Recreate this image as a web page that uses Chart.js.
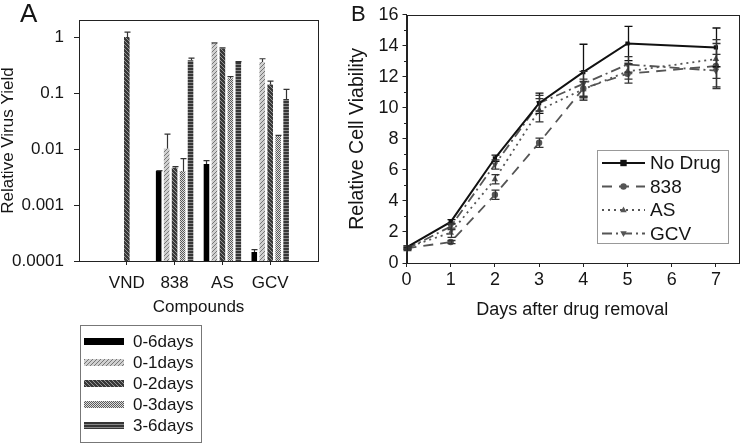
<!DOCTYPE html>
<html>
<head>
<meta charset="utf-8">
<script src="https://cdn.jsdelivr.net/npm/chart.js@4.4.1/dist/chart.umd.min.js"></script>
<style>
  body { margin: 0; background: #fff; width: 742px; height: 444px; overflow: hidden; position: relative; }
  #wrapA { position: absolute; left: 0; top: 0; width: 330px; height: 444px; }
  #wrapB { position: absolute; left: 340px; top: 0; width: 402px; height: 444px; }
</style>
</head>
<body>
<div id="wrapA"><canvas id="chartA"></canvas></div>
<div id="wrapB"><canvas id="chartB"></canvas></div>
<script>
// ---- panel A: relative virus yield (log scale) ----
const compounds = ['VND', '838', 'AS', 'GCV'];
const periods = ['0-6days', '0-1days', '0-2days', '0-3days', '3-6days'];
const yield06 = [null, 0.0041, 0.0054, 0.000145];
const yield01 = [null, 0.0102, 0.786, 0.36];
const yield02 = [1.0, 0.00465, 0.627, 0.142];
const yield03 = [null, 0.00403, 0.184, 0.0171];
const yield36 = [null, 0.386, 0.36, 0.078];
const err06 = [null, 0, 0.0008, 0.000014];
const err01 = [null, 0.0083, 0, 0.05];
const err02 = [0.22, 0.0002, 0.015, 0.021];
const err03 = [null, 0.0027, 0.013, 0.0005];
const err36 = [null, 0.034, 0.005, 0.038];
const yTicksA = [0.0001, 0.001, 0.01, 0.1, 1];

// ---- panel B: relative cell viability ----
const days = [0, 1, 2, 3, 4, 5, 7];
const drugs = ['No Drug', '838', 'AS', 'GCV'];
const noDrug = [1.0, 2.65, 6.75, 10.3, 12.3, 14.15, 13.9];
const drug838 = [0.95, 1.35, 4.4, 7.75, 11.25, 12.2, 12.7];
const drugAS = [1.0, 1.95, 5.4, 9.85, 11.2, 12.35, 13.15];
const drugGCV = [0.9, 2.35, 6.35, 10.3, 11.55, 12.8, 12.4];
const sdNoDrug = [0.1, 0.15, 0.2, 0.65, 1.8, 1.1, 1.25];
const sd838 = [0.05, 0.1, 0.3, 0.3, 0.6, 0.6, 1.45];
const sdAS = [0.1, 0.3, 0.3, 0.75, 0.5, 0.5, 1.25];
const sdGCV = [0.1, 0.2, 0.3, 0.5, 0.8, 0.5, 1.05];

const FONT = '"Liberation Sans", Arial, sans-serif';
const TXT = '#151515';
Chart.defaults.font.family = FONT;
Chart.defaults.color = TXT;

// fill patterns for the bars
function pattern(w, h, bg, fg, pix) {
  const c = document.createElement('canvas');
  c.width = w; c.height = h;
  const x = c.getContext('2d');
  x.fillStyle = bg; x.fillRect(0, 0, w, h);
  x.fillStyle = fg;
  for (let i = 0; i < w; i++) for (let j = 0; j < h; j++) if (pix(i, j)) x.fillRect(i, j, 1, 1);
  return x.createPattern(c, 'repeat');
}
const fillsA = [
  '#000',
  pattern(4, 4, '#d0d0d0', '#767676', (i, j) => i + j === 3),
  pattern(4, 4, '#383838', '#969696', (i, j) => i === j),
  pattern(2, 2, '#dcdcdc', '#5a5a5a', (i, j) => (i + j) % 2 === 0),
  pattern(1, 3, '#363636', '#888888', (i, j) => j === 1)
];

// error bars: panel A upward only, panel B both ways
const errorBars = {
  id: 'errorBars',
  afterDatasetsDraw(chart, args, opts) {
    const ctx = chart.ctx, yScale = chart.scales.y;
    ctx.save();
    chart.data.datasets.forEach((ds, di) => {
      const meta = chart.getDatasetMeta(di);
      ds.errors.forEach((e, i) => {
        const el = meta.data[i];
        const v = opts.xy ? ds.data[i].y : ds.data[i];
        if (e == null || v == null || !el) return;
        const x = Math.round(el.x) + 0.5;
        const top = yScale.getPixelForValue(v + e);
        const bot = opts.both ? yScale.getPixelForValue(v - e) : el.y;
        ctx.strokeStyle = opts.colors ? opts.colors[di] : '#333';
        ctx.lineWidth = opts.width;
        ctx.beginPath();
        ctx.moveTo(x, top); ctx.lineTo(x, bot);
        ctx.moveTo(x - opts.cap, top); ctx.lineTo(x + opts.cap, top);
        if (opts.both) { ctx.moveTo(x - opts.cap, bot); ctx.lineTo(x + opts.cap, bot); }
        ctx.stroke();
      });
    });
    ctx.restore();
  }
};

// frame around the plot area and the panel letter
const frame = {
  id: 'frame',
  afterDraw(chart, args, opts) {
    const {left, top, right, bottom} = chart.chartArea;
    const ctx = chart.ctx;
    ctx.save();
    ctx.strokeStyle = '#222';
    ctx.lineWidth = 1;
    ctx.strokeRect(Math.round(left) + 0.5, Math.round(top) + 0.5, Math.round(right - left), Math.round(bottom - top));
    ctx.fillStyle = TXT;
    ctx.font = opts.size + 'px ' + FONT;
    ctx.textBaseline = 'alphabetic';
    ctx.fillText(opts.letter, opts.x, opts.y);
    if (opts.minor) {
      const ys = chart.scales.y;
      ctx.beginPath();
      opts.minor.forEach(v => {
        const y = Math.round(ys.getPixelForValue(v)) + 0.5;
        ctx.moveTo(left, y); ctx.lineTo(left - 2.5, y);
      });
      ctx.stroke();
    }
    ctx.restore();
  }
};

const legendA = {
  id: 'legendA',
  afterDraw(chart) {
    const ctx = chart.ctx;
    ctx.save();
    ctx.strokeStyle = '#777';
    ctx.lineWidth = 1;
    ctx.strokeRect(80.5, 325.5, 121, 117);
    ctx.font = '17px ' + FONT;
    ctx.textBaseline = 'middle';
    chart.data.datasets.forEach((ds, i) => {
      const y = 341.5 + i * 21;
      ctx.fillStyle = ds.backgroundColor;
      ctx.fillRect(84, y - 3.5, 40, 7);
      ctx.fillStyle = TXT;
      ctx.fillText(ds.label, 133, y + 1);
    });
    ctx.restore();
  }
};

function marker(ctx, style, rot, r, x, y) {
  ctx.beginPath();
  if (style === 'rect') {
    ctx.rect(x - r, y - r, 2 * r, 2 * r);
  } else if (style === 'circle') {
    ctx.arc(x, y, r, 0, Math.PI * 2);
  } else {
    const s = rot ? -1 : 1;
    ctx.moveTo(x, y - s * r * 1.1);
    ctx.lineTo(x + r, y + s * r * 0.7);
    ctx.lineTo(x - r, y + s * r * 0.7);
    ctx.closePath();
  }
  ctx.fill();
}

const legendB = {
  id: 'legendB',
  afterDraw(chart) {
    const ctx = chart.ctx;
    ctx.save();
    ctx.strokeStyle = '#999';
    ctx.lineWidth = 1;
    ctx.strokeRect(257.5, 150.5, 131, 93);
    ctx.font = '19px ' + FONT;
    ctx.textBaseline = 'middle';
    chart.data.datasets.forEach((ds, i) => {
      const y = 163 + i * 23.5;
      ctx.strokeStyle = ds.borderColor;
      ctx.lineWidth = ds.borderWidth;
      ctx.setLineDash(ds.borderDash);
      ctx.beginPath(); ctx.moveTo(262, y); ctx.lineTo(305, y); ctx.stroke();
      ctx.setLineDash([]);
      ctx.fillStyle = ds.borderColor;
      marker(ctx, ds.pointStyle, ds.pointRotation, 3.2, 283.5, y);
      ctx.fillStyle = TXT;
      ctx.fillText(ds.label, 310, y + 1);
    });
    ctx.restore();
  }
};

// ---- chart A ----
const labelsA = ['', ...compounds, ''];
const pad = a => [null, ...a, null];
const seriesA = [yield06, yield01, yield02, yield03, yield36];
const errorsA = [err06, err01, err02, err03, err36];

new Chart(document.getElementById('chartA'), {
  type: 'bar',
  data: {
    labels: labelsA,
    datasets: periods.map((p, i) => ({
      label: p,
      data: pad(seriesA[i]),
      errors: pad(errorsA[i]),
      backgroundColor: fillsA[i],
      borderWidth: 0,
      categoryPercentage: 0.833,
      barPercentage: 0.7
    }))
  },
  options: {
    responsive: true,
    maintainAspectRatio: false,
    animation: false,
    layout: { padding: { left: 0, top: 13, right: 12, bottom: 126 } },
    plugins: {
      legend: { display: false },
      tooltip: { enabled: false },
      errorBars: { width: 1.2, cap: 3, both: false },
      frame: { letter: 'A', size: 26, x: 20, y: 22 }
    },
    scales: {
      x: {
        offset: false,
        grid: {
          offset: false,
          drawOnChartArea: false,
          tickLength: 4,
          tickColor: c => (c.tick && c.tick.label === '') ? 'rgba(0,0,0,0)' : '#222'
        },
        border: { color: '#222' },
        ticks: { padding: 8, font: { size: 17 }, autoSkip: false, maxRotation: 0 },
        title: { display: true, text: 'Compounds', font: { size: 17 }, padding: 0 },
        afterFit: s => { s.height = 57; }
      },
      y: {
        type: 'logarithmic',
        min: 0.0001,
        max: 2,
        afterBuildTicks: s => { s.ticks = yTicksA.map(v => ({ value: v })); },
        grid: { drawOnChartArea: false, tickLength: 5, tickColor: '#222' },
        border: { color: '#222' },
        ticks: { padding: 10, font: { size: 17 }, autoSkip: false, callback: v => String(v) },
        title: { display: true, text: 'Relative Virus Yield', font: { size: 17, lineHeight: 1 }, padding: { top: 0, bottom: 0 } },
        afterFit: s => { s.width = 79; }
      }
    }
  },
  plugins: [errorBars, frame, legendA]
});

// ---- chart B ----
const seriesB = [noDrug, drug838, drugAS, drugGCV];
const sdB = [sdNoDrug, sd838, sdAS, sdGCV];
const lineStyles = [
  { color: '#111', dash: [], point: 'rect', rot: 0, r: 3, w: 2 },
  { color: '#555', dash: [10, 7], point: 'circle', rot: 0, r: 3.2, w: 1.8 },
  { color: '#555', dash: [2, 4], point: 'triangle', rot: 0, r: 3.8, w: 1.8 },
  { color: '#555', dash: [10, 4, 2, 4], point: 'triangle', rot: 180, r: 3.8, w: 1.8 }
];

new Chart(document.getElementById('chartB'), {
  type: 'line',
  data: {
    datasets: drugs.map((d, i) => ({
      label: d,
      data: days.map((x, j) => ({ x: x, y: seriesB[i][j] })),
      errors: sdB[i],
      borderColor: lineStyles[i].color,
      backgroundColor: lineStyles[i].color,
      borderDash: lineStyles[i].dash,
      borderWidth: lineStyles[i].w,
      pointStyle: lineStyles[i].point,
      pointRotation: lineStyles[i].rot,
      pointRadius: lineStyles[i].r,
      pointBorderWidth: 0,
      tension: 0,
      fill: false
    }))
  },
  options: {
    responsive: true,
    maintainAspectRatio: false,
    animation: false,
    layout: { padding: { left: 0, top: 13, right: 2, bottom: 123 } },
    plugins: {
      legend: { display: false },
      tooltip: { enabled: false },
      errorBars: { width: 1.3, cap: 4, both: true, xy: true, colors: ['#111', '#333', '#333', '#333'] },
      frame: { letter: 'B', size: 22, x: 11, y: 21, minor: [1, 3, 5, 7, 9, 11, 13, 15] }
    },
    scales: {
      x: {
        type: 'linear',
        min: 0,
        max: 7.5,
        grid: { drawOnChartArea: false, tickLength: 4, tickColor: '#222' },
        border: { color: '#222' },
        ticks: { stepSize: 1, includeBounds: false, padding: 2, font: { size: 18 }, maxRotation: 0 },
        title: { display: true, text: 'Days after drug removal', font: { size: 18 }, padding: 0 },
        afterFit: s => { s.height = 58; }
      },
      y: {
        min: 0,
        max: 16,
        grid: { drawOnChartArea: false, tickLength: 4, tickColor: '#222' },
        border: { color: '#222' },
        ticks: { stepSize: 2, padding: 4, font: { size: 18 } },
        title: { display: true, text: 'Relative Cell Viability', font: { size: 19.5, lineHeight: 1 }, padding: { top: 8, bottom: 0 } },
        afterFit: s => { s.width = 66.5; }
      }
    }
  },
  plugins: [errorBars, frame, legendB]
});
</script>
</body>
</html>
